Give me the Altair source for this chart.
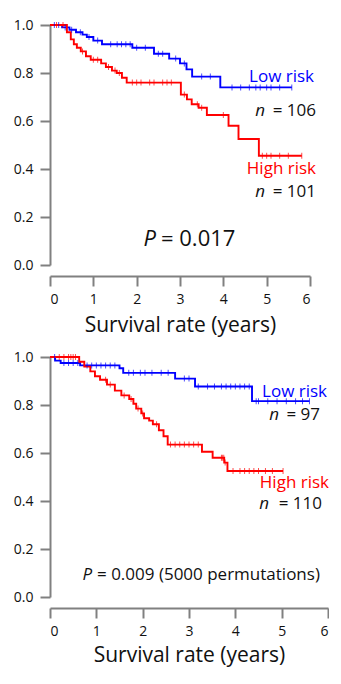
import altair as alt
import numpy as np
import pandas as pd

# ---- Panel 1 (top) ----
p1_low_t = [0, 0.28, 0.45, 0.6, 0.75, 0.85, 1.0, 1.2, 1.9, 2.4, 2.75, 3.0, 3.15, 3.28, 3.93, 5.58]
p1_low_s = [1.0, 0.99, 0.98, 0.97, 0.96, 0.95, 0.935, 0.92, 0.905, 0.88, 0.86, 0.84, 0.815, 0.785, 0.74, 0.74]
p1_low_c = [0.1, 0.2, 0.35, 0.5, 0.7, 0.9, 1.1, 1.4, 1.55, 1.65, 1.75, 1.85, 2.0, 2.2, 2.5, 2.6, 2.9, 3.1,
            3.5, 3.7, 4.2, 4.4, 4.6, 4.75, 4.85, 5.0, 5.1, 5.3, 5.58]
p1_high_t = [0, 0.39, 0.48, 0.55, 0.62, 0.71, 0.83, 0.94, 1.18, 1.29, 1.43, 1.54, 1.66, 1.77,
             3.02, 3.16, 3.27, 3.43, 3.62, 4.12, 4.35, 4.82, 5.81]
p1_high_s = [1.0, 0.97, 0.94, 0.92, 0.905, 0.89, 0.87, 0.855, 0.84, 0.825, 0.81, 0.8, 0.78, 0.76,
             0.71, 0.69, 0.67, 0.655, 0.625, 0.58, 0.525, 0.455, 0.455]
p1_high_c = [0.15, 0.3, 0.75, 1.0, 1.1, 1.35, 1.5, 1.6, 1.9, 2.0, 2.1, 2.3, 2.4, 2.6, 2.7, 2.8, 3.1,
             3.4, 3.5, 4.0, 4.9, 5.0, 5.1, 5.3, 5.5, 5.81]

# ---- Panel 2 (bottom) ----
p2_low_t = [0, 0.11, 0.23, 0.65, 1.5, 1.58, 2.7, 3.13, 4.36, 5.6]
p2_low_s = [1.0, 0.985, 0.975, 0.965, 0.953, 0.934, 0.91, 0.877, 0.816, 0.816]
p2_low_c = [0.1, 0.3, 0.4, 0.5, 0.6, 0.8, 0.9, 1.0, 1.1, 1.2, 1.3, 1.4, 1.7, 1.8, 1.95, 2.05, 2.2,
            2.4, 2.55, 2.9, 3.0, 3.2, 3.4, 3.55, 3.7, 3.8, 3.9, 4.0, 4.1, 4.2, 4.3, 4.45, 4.5,
            4.7, 4.9, 5.1, 5.3, 5.45, 5.6]
p2_high_t = [0, 0.63, 0.74, 0.87, 0.97, 1.08, 1.23, 1.40, 1.54, 1.71, 1.80, 1.86, 1.97, 2.03, 2.14,
             2.22, 2.35, 2.45, 2.54, 3.28, 3.51, 3.76, 3.83, 5.03]
p2_high_s = [1.0, 0.98, 0.96, 0.94, 0.92, 0.905, 0.885, 0.86, 0.84, 0.825, 0.805, 0.785, 0.765, 0.745,
             0.735, 0.72, 0.695, 0.67, 0.635, 0.605, 0.58, 0.56, 0.525, 0.525]
p2_high_c = [0.2, 0.3, 0.4, 0.45, 0.5, 0.55, 1.2, 1.3, 1.6, 1.75, 1.9, 2.0, 2.3, 2.6, 2.7, 2.8,
             2.9, 3.0, 3.1, 3.2, 3.7, 3.72, 3.75, 3.78, 3.95, 4.1, 4.2, 4.3, 4.4, 4.5, 4.65, 4.8, 5.03]

groups = ["Low risk", "High risk"]
colors = ["#0000ff", "#ff0000"]
FONT = "Open Sans"


def step_df(t, s, name):
    return pd.DataFrame({"time": t, "surv": s, "group": name})


def censor_df(t, s, c, name):
    idx = np.searchsorted(np.array(t), np.array(c), side="right") - 1
    idx = np.clip(idx, 0, len(s) - 1)
    return pd.DataFrame({"time": c, "surv": np.array(s)[idx], "group": name})


def panel(lt, ls, lc, ht, hs, hc, width, height, xoffset, tpad, texts):
    lines = pd.concat([step_df(lt, ls, groups[0]), step_df(ht, hs, groups[1])])
    cens = pd.concat([censor_df(lt, ls, lc, groups[0]), censor_df(ht, hs, hc, groups[1])])
    xs = alt.Scale(domain=[0, 6], nice=False)
    ys = alt.Scale(domain=[0, 1], nice=False)
    cs = alt.Scale(domain=groups, range=colors)
    x = alt.X("time:Q", scale=xs, title="Survival rate (years)",
              axis=alt.Axis(values=[0, 1, 2, 3, 4, 5, 6], format="d", offset=xoffset,
                            titleFontSize=21, titlePadding=tpad, titleFontWeight="normal"))
    y = alt.Y("surv:Q", scale=ys, title=None,
              axis=alt.Axis(values=[0, 0.2, 0.4, 0.6, 0.8, 1.0], format=".1f", labelPadding=7))
    line = alt.Chart(lines).mark_line(interpolate="step-after", strokeWidth=1.9).encode(
        x=x, y=y, color=alt.Color("group:N", scale=cs, legend=None))
    ticks = alt.Chart(cens).mark_tick(orient="vertical", size=6, thickness=1).encode(
        x="time:Q", y="surv:Q", color=alt.Color("group:N", scale=cs, legend=None))
    layers = [line, ticks]
    for (txt, px, py, size, color, align, italic) in texts:
        layers.append(
            alt.Chart(pd.DataFrame({"t": [txt]})).mark_text(
                font=FONT, fontSize=size, color=color, align=align, baseline="middle",
                fontStyle="italic" if italic else "normal"
            ).encode(x=alt.value(px), y=alt.value(py), text="t:N")
        )
    return alt.layer(*layers).properties(width=width, height=height)


top = panel(p1_low_t, p1_low_s, p1_low_c, p1_high_t, p1_high_s, p1_high_c, 260, 240, 11, 8, [
    ("Low risk", 264, 52, 17, "#0000ff", "right", False),
    ("= 106", 266, 86, 17, "#111111", "right", False),
    ("n", 215, 86, 17, "#111111", "right", True),
    ("High risk", 266, 144, 17, "#ff0000", "right", False),
    ("= 101", 266, 167, 17, "#111111", "right", False),
    ("n", 215, 167, 17, "#111111", "right", True),
    ("P", 106, 214, 22, "#111111", "right", True),
    ("= 0.017", 111, 214, 22, "#111111", "left", False),
])

bottom = panel(p2_low_t, p2_low_s, p2_low_c, p2_high_t, p2_high_s, p2_high_c, 278, 240, 11, 6, [
    ("Low risk", 277, 35, 17, "#0000ff", "right", False),
    ("= 97", 270, 58, 17, "#111111", "right", False),
    ("n", 229, 58, 17, "#111111", "right", True),
    ("High risk", 279, 126, 17, "#ff0000", "right", False),
    ("= 110", 272, 147, 17, "#111111", "right", False),
    ("n", 219, 147, 17, "#111111", "right", True),
    ("P", 42, 218, 17, "#111111", "right", True),
    ("= 0.009 (5000 permutations)", 47, 218, 17, "#111111", "left", False),
])

chart = alt.vconcat(top, bottom, spacing=15).properties(
    padding={"top": 10, "left": 5, "right": 0, "bottom": 5}
).configure_view(stroke=None).configure_axis(
    grid=False, domainColor="#808080", domainWidth=2, tickColor="#808080", tickWidth=2,
    tickSize=10, labelFontSize=14, labelColor="#111111", labelFont=FONT, titleFont=FONT,
    titleColor="#111111", labelPadding=6
)

chart.save("out.html", embed_options={"renderer": "svg", "actions": False})
